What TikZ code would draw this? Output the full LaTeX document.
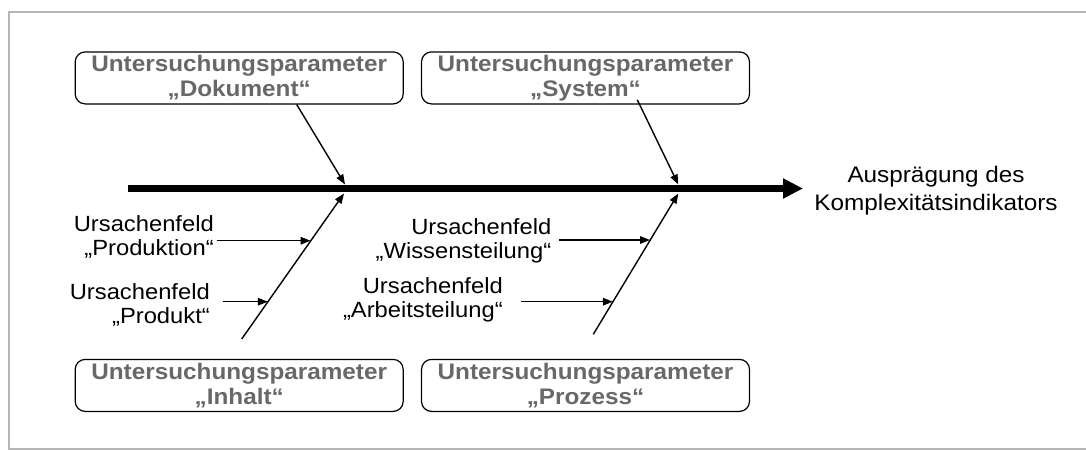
\documentclass[tikz,border=0pt]{standalone}
\usepackage{fontspec}
\setmainfont[FakeStretch=1.08]{Liberation Sans}
\usetikzlibrary{arrows.meta}
\definecolor{frameGray}{RGB}{182,182,182}
\definecolor{paramGray}{RGB}{104,104,104}
\begin{document}
\begin{tikzpicture}[x=1pt,y=-1pt,
  param/.style={draw=black, line width=1.2pt, rounded corners=10pt,
    minimum width=328pt, minimum height=52pt, inner sep=0pt, align=center,
    text=paramGray, font=\fontsize{22.5}{25}\selectfont\bfseries},
  field/.style={align=right, inner sep=0pt, anchor=base east,
    font=\fontsize{22}{23.7}\selectfont},
  effectlabel/.style={align=center, inner sep=0pt,
    font=\fontsize{22.5}{28.3}\selectfont},
  bone/.style={line width=1.4pt, -{Triangle[length=10pt,width=7.5pt]}},
  spine/.style={line width=7pt, -{Triangle[length=20pt,width=19pt]}}]

\useasboundingbox (0,0) rectangle (1086,450);
\draw[frameGray, line width=1.5pt] (9,12) rectangle (1100,449.2);

% investigation parameters
\node[param] (pDok) at (239.2,77.9) {Untersuchungsparameter\\„Dokument“};
\node[param] (pSys) at (585.5,77.9) {Untersuchungsparameter\\„System“};
\node[param] (pInh) at (239.2,385.4) {Untersuchungsparameter\\„Inhalt“};
\node[param] (pPro) at (585.5,385.4) {Untersuchungsparameter\\„Prozess“};

% effect
\node[effectlabel] (effect) at (936,190.5) {Ausprägung des\\Komplexitätsindikators};

% cause fields (anchored at the baseline of their last line)
\node[field] (fProduktion) at (214,255.5) {Ursachenfeld\\„Produktion“};
\node[field] (fProdukt) at (210,323.5) {Ursachenfeld\\„Produkt“};
\node[field] (fWissen) at (551.5,258.5) {Ursachenfeld\\„Wissensteilung“};
\node[field] (fArbeit) at (503,317) {Ursachenfeld\\„Arbeitsteilung“};

% spine and bone joints
\coordinate (spineStart) at (128,188.5);
\coordinate (spineEnd) at (803,188.5);
\coordinate (jDokTop) at (345,184.5);
\coordinate (jSysTop) at (678.3,184.5);
\coordinate (jInhBot) at (344,193.5);
\coordinate (jProBot) at (678.3,193.5);
\coordinate (inhFoot) at (241.7,339);
\coordinate (proFoot) at (593.3,334.3);

% sub-cause start and end points
\coordinate (sProduktion) at (216.7,240.7);
\coordinate (eProduktion) at (310.6,240.7);
\coordinate (sProdukt) at (222.7,301.7);
\coordinate (eProdukt) at (267.8,301.7);
\coordinate (sWissen) at (559,240);
\coordinate (eWissen) at (650,240);
\coordinate (sArbeit) at (521,301.7);
\coordinate (eArbeit) at (612.9,301.7);

\draw[spine] (spineStart) -- (spineEnd);

\draw[bone] ([xshift=57.5pt]pDok.south) -- (jDokTop);
\draw[bone] ([xshift=51.8pt,yshift=4.7pt]pSys.south) -- (jSysTop);
\draw[bone] (inhFoot) -- (jInhBot);
\draw[bone] (proFoot) -- (jProBot);

\draw[bone] (sProduktion) -- (eProduktion);
\draw[bone] (sProdukt) -- (eProdukt);
\draw[bone] (sWissen) -- (eWissen);
\draw[bone] (sArbeit) -- (eArbeit);
\end{tikzpicture}
\end{document}
